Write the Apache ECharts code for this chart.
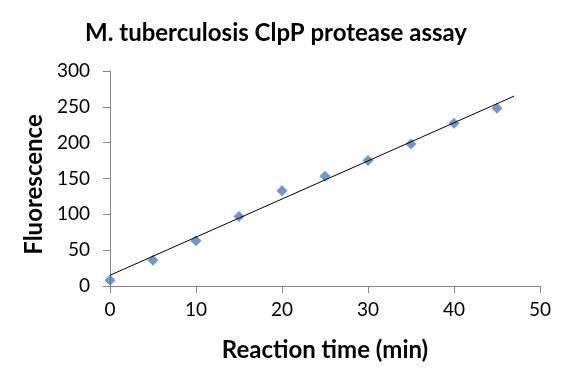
<!DOCTYPE html>
<html>
<head>
<meta charset="utf-8">
<script src="https://cdn.jsdelivr.net/npm/echarts@6/dist/echarts.min.js"></script>
<style>html,body{margin:0;padding:0;background:#fff}#c{width:584px;height:381px}</style>
</head>
<body>
<div id="c"></div>
<script>
const times = [0, 5, 10, 15, 20, 25, 30, 35, 40, 45];
const fluorescence = [8, 36, 63, 97, 133, 153, 175, 198, 227, 248];
const trendX = [0, 47];
const trendY = [15, 265];
const xTicks = [0, 10, 20, 30, 40, 50];
const yTicks = [0, 50, 100, 150, 200, 250, 300];

const FONT = 'Lato';
const chart = echarts.init(document.getElementById('c'));
const axisCommon = {
  axisLine: {show: true, lineStyle: {color: '#868686', width: 1}},
  axisTick: {show: true, inside: false, length: 7, lineStyle: {color: '#868686'}},
  splitLine: {show: false},
  axisLabel: {color: '#000', fontSize: 19, fontFamily: FONT}
};
chart.setOption({
  animation: false,
  title: {
    text: 'M. tuberculosis ClpP protease assay',
    left: 271, top: 16, textAlign: 'center',
    textStyle: {fontSize: 24, fontWeight: 'bold', color: '#000', fontFamily: FONT}
  },
  grid: {left: 110, right: 44, top: 71, bottom: 95},
  xAxis: Object.assign({}, axisCommon, {
    type: 'value', min: xTicks[0], max: xTicks[xTicks.length - 1], interval: 10,
    name: 'Reaction time (min)', nameLocation: 'middle', nameGap: 52,
    nameTextStyle: {fontSize: 24, fontWeight: 'bold', color: '#000', fontFamily: FONT},
    axisLabel: Object.assign({}, axisCommon.axisLabel, {margin: 14})
  }),
  yAxis: Object.assign({}, axisCommon, {
    type: 'value', min: yTicks[0], max: yTicks[yTicks.length - 1], interval: 50,
    name: 'Fluorescence', nameLocation: 'middle', nameGap: 63, nameRotate: 90,
    nameTextStyle: {fontSize: 24, fontWeight: 'bold', color: '#000', fontFamily: FONT, padding: [0, 12, 0, 0]},
    axisLabel: Object.assign({}, axisCommon.axisLabel, {margin: 20})
  }),
  series: [
    {
      type: 'line',
      data: trendX.map((x, i) => [x, trendY[i]]),
      symbol: 'none',
      lineStyle: {color: '#000', width: 1},
      z: 3
    },
    {
      type: 'scatter',
      data: times.map((t, i) => [t, fluorescence[i]]),
      symbol: 'diamond',
      symbolSize: [11, 11],
      itemStyle: {color: '#4a7ebb'},
      z: 2
    }
  ]
});
</script>
</body>
</html>
